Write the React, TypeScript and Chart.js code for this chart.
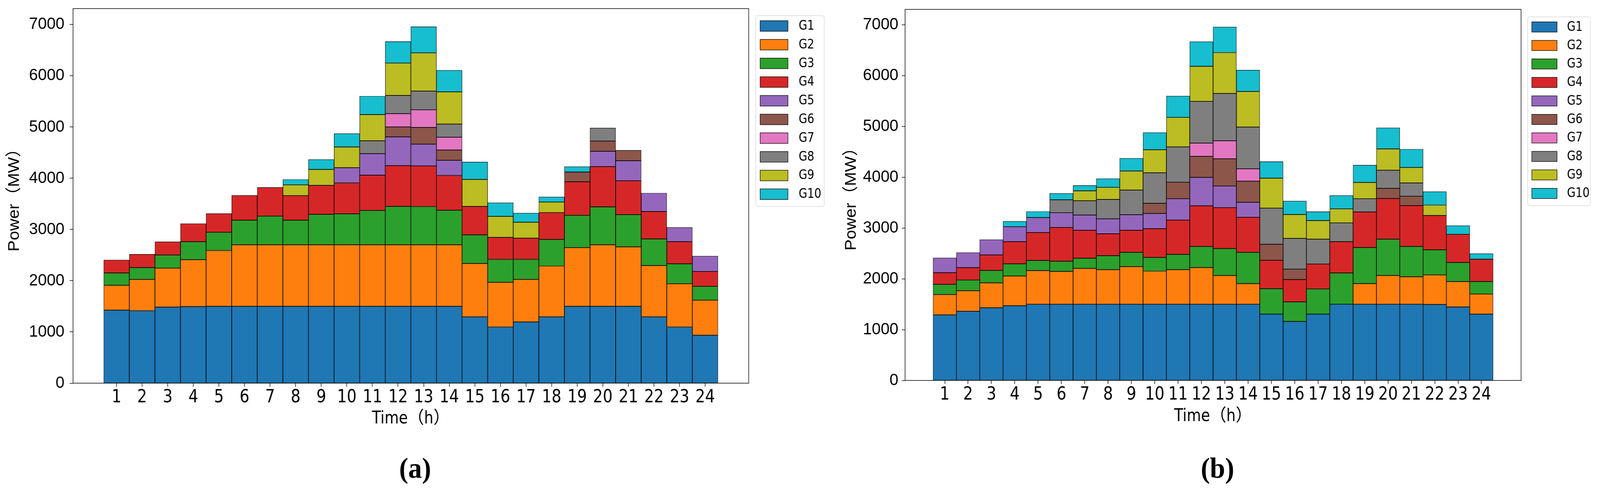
import React, { useEffect, useRef } from "react";
import { Chart, registerables } from "chart.js";

Chart.register(...registerables);

// ---------- data ----------
const hours = [1, 2, 3, 4, 5, 6, 7, 8, 9, 10, 11, 12, 13, 14, 15, 16, 17, 18, 19, 20, 21, 22, 23, 24];
const genNames = ["G1", "G2", "G3", "G4", "G5", "G6", "G7", "G8", "G9", "G10"];
const genColors = ["#1f77b4", "#ff7f0e", "#2ca02c", "#d62728", "#9467bd", "#8c564b", "#e377c2", "#7f7f7f", "#bcbd22", "#17becf"];
const yTickValues = [0, 1000, 2000, 3000, 4000, 5000, 6000, 7000];

// (a)
const a_G1 = [1425, 1415, 1485, 1495, 1500, 1500, 1500, 1500, 1500, 1500, 1500, 1500, 1500, 1500, 1295, 1095, 1195, 1295, 1500, 1500, 1500, 1295, 1095, 935];
const a_G2 = [485, 610, 760, 915, 1090, 1200, 1200, 1200, 1200, 1200, 1200, 1200, 1200, 1200, 1040, 875, 830, 990, 1145, 1200, 1160, 1000, 845, 685];
const a_G3 = [240, 230, 255, 350, 355, 480, 560, 480, 595, 605, 670, 750, 745, 675, 560, 445, 390, 520, 630, 740, 630, 520, 390, 270];
const a_G4 = [255, 260, 260, 355, 365, 485, 560, 480, 565, 605, 690, 795, 795, 680, 555, 430, 415, 525, 655, 785, 660, 535, 430, 290];
const a_G5 = [0, 0, 0, 0, 0, 0, 0, 0, 0, 295, 420, 560, 425, 295, 0, 0, 0, 0, 0, 300, 390, 360, 280, 300];
const a_G6 = [0, 0, 0, 0, 0, 0, 0, 0, 0, 0, 0, 195, 325, 200, 0, 0, 0, 0, 190, 200, 205, 0, 0, 0];
const a_G7 = [0, 0, 0, 0, 0, 0, 0, 0, 0, 0, 0, 260, 345, 250, 0, 0, 0, 0, 0, 0, 0, 0, 0, 0];
const a_G8 = [0, 0, 0, 0, 0, 0, 0, 0, 0, 0, 250, 355, 365, 255, 0, 0, 0, 0, 0, 255, 0, 0, 0, 0];
const a_G9 = [0, 0, 0, 0, 0, 0, 0, 210, 310, 405, 510, 630, 745, 630, 525, 410, 310, 205, 0, 0, 0, 0, 0, 0];
const a_G10 = [0, 0, 0, 0, 0, 0, 0, 105, 195, 260, 360, 420, 510, 420, 340, 265, 180, 100, 105, 0, 0, 0, 0, 0];

// (b)
const b_G1 = [1290, 1360, 1430, 1470, 1500, 1500, 1500, 1500, 1500, 1500, 1500, 1500, 1500, 1500, 1305, 1160, 1305, 1500, 1500, 1500, 1500, 1495, 1445, 1305];
const b_G2 = [400, 405, 490, 585, 660, 645, 705, 680, 740, 650, 680, 720, 565, 405, 0, 0, 0, 0, 405, 565, 540, 580, 500, 395];
const b_G3 = [200, 210, 245, 240, 200, 200, 200, 275, 280, 270, 300, 415, 530, 615, 500, 385, 495, 615, 710, 715, 595, 495, 375, 245];
const b_G4 = [230, 245, 305, 435, 550, 665, 550, 430, 435, 565, 675, 800, 805, 690, 560, 440, 490, 615, 700, 800, 805, 675, 555, 440];
const b_G5 = [290, 295, 300, 295, 295, 290, 300, 295, 305, 300, 420, 560, 425, 295, 0, 0, 0, 0, 0, 0, 0, 0, 0, 0];
const b_G6 = [0, 0, 0, 0, 0, 0, 0, 0, 0, 200, 325, 415, 535, 415, 315, 205, 0, 0, 0, 200, 185, 0, 0, 0];
const b_G7 = [0, 0, 0, 0, 0, 0, 0, 0, 0, 0, 0, 260, 355, 245, 0, 0, 0, 0, 0, 0, 0, 0, 0, 0];
const b_G8 = [0, 0, 0, 0, 0, 255, 280, 380, 485, 600, 695, 820, 930, 820, 710, 605, 490, 370, 260, 355, 260, 0, 0, 0];
const b_G9 = [0, 0, 0, 0, 0, 0, 195, 240, 375, 455, 580, 690, 805, 700, 590, 470, 365, 275, 320, 420, 305, 205, 0, 0];
const b_G10 = [0, 0, 0, 105, 120, 125, 105, 170, 250, 335, 420, 485, 505, 420, 325, 265, 175, 265, 340, 415, 360, 265, 170, 110];

const seriesA = [a_G1, a_G2, a_G3, a_G4, a_G5, a_G6, a_G7, a_G8, a_G9, a_G10];
const seriesB = [b_G1, b_G2, b_G3, b_G4, b_G5, b_G6, b_G7, b_G8, b_G9, b_G10];

// ---------- layout / style ----------
const PAGE_W = 4317;
const PAGE_H = 1266;
const NARROW = "'DejaVu Sans Condensed', 'Liberation Sans', 'Noto Sans CJK SC', sans-serif";
const ARIAL = "'Liberation Sans', Arial, 'Noto Sans CJK SC', sans-serif";

type Layout = {
  W: number; H: number;
  area: { left: number; right: number; top: number; bottom: number };
  yMax: number; yTickPad: number; yTitlePadTop: number; xTitlePadBottom: number;
  legend: { x1: number; y1: number; x2: number; y2: number; sx: number; sw: number; sh: number; first: number; pitch: number; tx: number };
};

const layoutA: Layout = {
  W: 2235, H: 1110,
  area: { left: 197, right: 2020, top: 22, bottom: 980 },
  yMax: 7309, yTickPad: 14, yTitlePadTop: 13, xTitlePadBottom: 12,
  legend: { x1: 2039, y1: 40, x2: 2224, y2: 528, sx: 2051, sw: 75, sh: 27, first: 53, pitch: 47.8, tx: 2155 },
};
const layoutB: Layout = {
  W: 2082, H: 1110,
  area: { left: 207, right: 1869, top: 24, bottom: 973 },
  yMax: 7300, yTickPad: 9, yTitlePadTop: 36, xTitlePadBottom: 18,
  legend: { x1: 1887, y1: 43, x2: 2056, y2: 526, sx: 1898, sw: 68, sh: 26, first: 56, pitch: 47.3, tx: 1993 },
};

const framePlugin = {
  id: "axesFrame",
  afterDraw(chart: any) {
    const { ctx, chartArea } = chart;
    ctx.save();
    ctx.strokeStyle = "#000";
    ctx.lineWidth = 1.5;
    ctx.strokeRect(chartArea.left, chartArea.top, chartArea.right - chartArea.left, chartArea.bottom - chartArea.top);
    ctx.restore();
  },
};

function makeLegendPlugin(L: Layout) {
  return {
    id: "boxLegend",
    afterDraw(chart: any) {
      const ctx = chart.ctx;
      const g = L.legend;
      ctx.save();
      ctx.beginPath();
      if (ctx.roundRect) ctx.roundRect(g.x1, g.y1, g.x2 - g.x1, g.y2 - g.y1, 6);
      else ctx.rect(g.x1, g.y1, g.x2 - g.x1, g.y2 - g.y1);
      ctx.fillStyle = "rgba(255,255,255,0.8)";
      ctx.fill();
      ctx.strokeStyle = "#d9d9d9";
      ctx.lineWidth = 1.5;
      ctx.stroke();
      chart.data.datasets.forEach((ds: any, k: number) => {
        const top = g.first + k * g.pitch;
        ctx.fillStyle = ds.backgroundColor;
        ctx.fillRect(g.sx, top, g.sw, g.sh);
        ctx.strokeStyle = "#000";
        ctx.lineWidth = 1.3;
        ctx.strokeRect(g.sx, top, g.sw, g.sh);
        ctx.fillStyle = "#000";
        ctx.font = `33px ${NARROW}`;
        ctx.textBaseline = "middle";
        ctx.textAlign = "left";
        ctx.fillText(ds.label, g.tx, top + g.sh / 2 + 1);
      });
      ctx.restore();
    },
  };
}

function buildConfig(series: number[][], L: Layout): any {
  return {
    type: "bar",
    data: {
      datasets: genNames.map((name, k) => ({
        label: name,
        data: hours.map((h, i) => ({ x: h, y: series[k][i] })),
        backgroundColor: genColors[k],
        borderColor: "#000",
        borderWidth: 1.2,
        borderSkipped: false,
        categoryPercentage: 1,
        barPercentage: 1,
      })),
    },
    options: {
      responsive: false, maintainAspectRatio: false, animation: false, devicePixelRatio: 1,
      layout: { padding: { left: 0, top: L.area.top, right: L.W - L.area.right, bottom: 0 } },
      plugins: { legend: { display: false }, tooltip: { enabled: false }, title: { display: false } },
      scales: {
        x: {
          type: "linear", stacked: true, min: -0.7, max: 25.7, offset: false,
          grid: { display: true, offset: false, drawOnChartArea: false, drawTicks: true, tickLength: 9, tickWidth: 1.5, tickColor: "#000" },
          border: { display: false },
          ticks: { padding: 0, color: "#000", autoSkip: false, maxRotation: 0, minRotation: 0, font: { family: NARROW, size: 46 }, callback: (v: any) => String(v) },
          afterBuildTicks: (s: any) => { s.ticks = hours.map((h) => ({ value: h })); },
          afterFit: (s: any) => { s.height = L.H - L.area.bottom; s.paddingLeft = 0; s.paddingRight = 0; },
          title: { display: true, text: "Time（h）", color: "#000", font: { family: NARROW, size: 44 }, padding: { top: 0, bottom: L.xTitlePadBottom } },
        },
        y: {
          type: "linear", stacked: true, min: 0, max: L.yMax,
          grid: { display: true, drawOnChartArea: false, drawTicks: true, tickLength: 9, tickWidth: 1.5, tickColor: "#000" },
          border: { display: false },
          ticks: { padding: L.yTickPad, color: "#000", font: { family: ARIAL, size: 43 }, callback: (v: any) => String(v) },
          afterBuildTicks: (s: any) => { s.ticks = yTickValues.map((v) => ({ value: v })); },
          afterFit: (s: any) => { s.width = L.area.left; s.paddingTop = 0; s.paddingBottom = 0; },
          title: { display: true, text: "Power（MW）", color: "#000", font: { family: ARIAL, size: 43 }, padding: { top: L.yTitlePadTop, bottom: 0 } },
        },
      },
    },
    plugins: [framePlugin, makeLegendPlugin(L)],
  };
}

function StackedPanel({ series, layout, left }: { series: number[][]; layout: Layout; left: number }) {
  const ref = useRef<HTMLCanvasElement>(null);
  useEffect(() => {
    const canvas = ref.current;
    if (!canvas) return;
    const chart = new Chart(canvas, buildConfig(series, layout));
    return () => chart.destroy();
  }, []);
  return <canvas ref={ref} width={layout.W} height={layout.H} style={{ position: "absolute", left, top: 0, width: layout.W, height: layout.H }} />;
}

const panelLabelStyle: React.CSSProperties = {
  position: "absolute", top: 1160, width: 200, textAlign: "center",
  fontFamily: "'Liberation Serif', 'Times New Roman', serif", fontWeight: "bold", fontSize: 74, lineHeight: 1, color: "#000",
};

export default function App() {
  const scaleX = typeof window !== "undefined" ? Math.min(1, window.innerWidth / PAGE_W) : 1;
  return (
    <div style={{ position: "absolute", left: 0, top: 0, width: PAGE_W, height: PAGE_H, background: "#fff", overflow: "hidden", transform: `scaleX(${scaleX})`, transformOrigin: "0 0" }}>
      <StackedPanel series={seriesA} layout={layoutA} left={0} />
      <StackedPanel series={seriesB} layout={layoutB} left={2235} />
      <div style={{ ...panelLabelStyle, left: 1120 - 100 }}>(a)</div>
      <div style={{ ...panelLabelStyle, left: 3285 - 100 }}>(b)</div>
    </div>
  );
}
